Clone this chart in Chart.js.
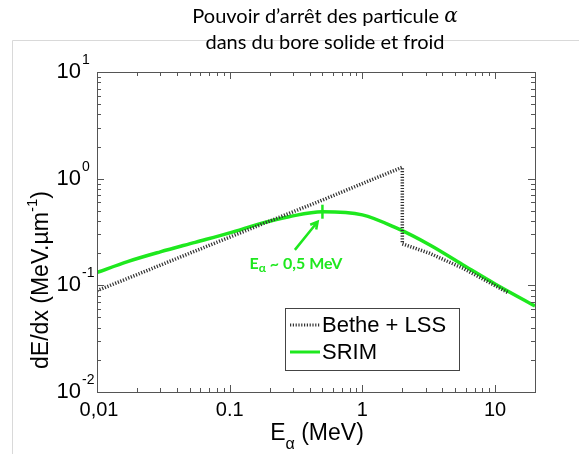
<!DOCTYPE html>
<html>
<head>
<meta charset="utf-8">
<script src="https://cdn.jsdelivr.net/npm/chart.js@4.4.0/dist/chart.umd.min.js"></script>
<style>
    html, body { margin: 0; padding: 0; background: #fff; }
    #wrap { position: relative; width: 579px; height: 454px; }
</style>
</head>
<body>
<div id="wrap"><canvas id="stopChart" width="579" height="454"></canvas></div>
<script>
// data
const titleLine1 = 'Pouvoir d\u2019arr\u00eat des particule ';
const titleAlpha = '\u03b1';
const titleLine2 = 'dans du bore solide et froid';

const betheE = [0.01, 0.02, 0.05, 0.1, 0.2, 0.5, 1, 2, 2, 3.2, 5.7, 12.6];
const betheS = [0.089, 0.126, 0.20, 0.283, 0.40, 0.63, 0.90, 1.28, 0.245, 0.20, 0.145, 0.085];

const srimE = [0.01, 0.017, 0.03, 0.055, 0.1, 0.175, 0.28, 0.5, 1, 1.8, 3.2, 5.7, 10, 20];
const srimS = [0.132, 0.167, 0.206, 0.253, 0.31, 0.383, 0.44, 0.49, 0.458, 0.345, 0.24, 0.156, 0.103, 0.064];

const peakMarker = [0.5, 0.49];

const xTickValues = [0.01, 0.1, 1, 10];
const xTickLabels = ['0,01', '0.1', '1', '10'];
const yTickValues = [0.01, 0.1, 1, 10];
const yTickExps = ['-2', '-1', '0', '1'];

const seriesLabels = ['Bethe + LSS', 'SRIM'];

const betheColor = '#333333';
const srimColor = '#1ee81e';

const toPoints = (xs, ys) => xs.map((x, i) => ({ x: x, y: ys[i] }));

// everything drawn around the axes: ticks, labels, legend, note
const decorPlugin = {
    id: 'decor',
    beforeDraw(chart) {
        const ctx = chart.ctx;
        ctx.save();
        ctx.fillStyle = '#fff';
        ctx.fillRect(0, 0, chart.width, chart.height);
        // slide frame lines
        ctx.strokeStyle = '#d9d9d9';
        ctx.lineWidth = 1;
        ctx.beginPath();
        ctx.moveTo(12.5, 454);
        ctx.lineTo(12.5, 40.5);
        ctx.lineTo(579, 40.5);
        ctx.stroke();
        // title, alpha in italics
        ctx.fillStyle = '#000';
        ctx.textBaseline = 'middle';
        ctx.textAlign = 'left';
        ctx.font = '20px Lato, "Open Sans", sans-serif';
        const w1 = ctx.measureText(titleLine1).width;
        ctx.font = 'italic 20px "DejaVu Serif", serif';
        const wa = ctx.measureText(titleAlpha).width;
        const t0 = 325 - (w1 + wa) / 2;
        ctx.font = '20px Lato, "Open Sans", sans-serif';
        ctx.fillText(titleLine1, t0, 17);
        ctx.font = 'italic 20px "DejaVu Serif", serif';
        ctx.fillText(titleAlpha, t0 + w1, 17);
        ctx.font = '20px Lato, "Open Sans", sans-serif';
        ctx.textAlign = 'center';
        ctx.fillText(titleLine2, 325, 43);
        ctx.restore();
    },
    afterDraw(chart) {
        const ctx = chart.ctx;
        const xs = chart.scales.x, ys = chart.scales.y;
        const a = chart.chartArea;
        ctx.save();

        // box
        ctx.strokeStyle = '#555';
        ctx.lineWidth = 1;
        ctx.strokeRect(Math.round(a.left) + 0.5, Math.round(a.top) + 0.5,
            Math.round(a.right - a.left), Math.round(a.bottom - a.top));

        // inward ticks on all four sides
        ctx.beginPath();
        [0.01, 0.1, 1, 10].forEach(d => {
            for (let m = 1; m <= 9; m++) {
                const v = d * m;
                if (v > xs.max * 1.0001) continue;
                const px = Math.round(xs.getPixelForValue(v)) + 0.5;
                const len = m === 1 ? 7 : 4;
                ctx.moveTo(px, a.bottom); ctx.lineTo(px, a.bottom - len);
                ctx.moveTo(px, a.top); ctx.lineTo(px, a.top + len);
            }
        });
        [0.01, 0.1, 1].forEach(d => {
            for (let m = 1; m <= 10; m++) {
                const py = Math.round(ys.getPixelForValue(d * m)) + 0.5;
                const len = (m === 1 || m === 10) ? 7 : 4;
                ctx.moveTo(a.left, py); ctx.lineTo(a.left + len, py);
                ctx.moveTo(a.right, py); ctx.lineTo(a.right - len, py);
            }
        });
        ctx.stroke();

        // x tick labels
        ctx.fillStyle = '#000';
        ctx.font = '20px "Liberation Sans", Arial, sans-serif';
        ctx.textAlign = 'center';
        ctx.textBaseline = 'middle';
        xTickValues.forEach((v, i) => {
            ctx.fillText(xTickLabels[i], xs.getPixelForValue(v) - (i === 0 ? -2 : 0), a.bottom + 18);
        });

        // y tick labels 10^n
        yTickValues.forEach((v, i) => {
            const py = ys.getPixelForValue(v);
            ctx.font = '22px "Liberation Sans", Arial, sans-serif';
            ctx.textAlign = 'right';
            ctx.textBaseline = 'middle';
            ctx.fillText('10', 81, py);
            ctx.font = '14px "Liberation Sans", Arial, sans-serif';
            ctx.textAlign = 'left';
            ctx.fillText(yTickExps[i], 82, py - 12);
        });

        // x axis title
        ctx.textBaseline = 'alphabetic';
        ctx.textAlign = 'left';
        const xt1 = 'E', xt2 = ' (MeV)';
        ctx.font = '16px "Liberation Sans", Arial, sans-serif';
        const wSub = ctx.measureText('\u03b1').width;
        ctx.font = '23px "Liberation Sans", Arial, sans-serif';
        const wE = ctx.measureText(xt1).width, wRest = ctx.measureText(xt2).width;
        const sx = 317 - (wE + wSub + wRest) / 2;
        ctx.fillText(xt1, sx, 440);
        ctx.font = '16px "Liberation Sans", Arial, sans-serif';
        ctx.fillText('\u03b1', sx + wE, 449);
        ctx.font = '23px "Liberation Sans", Arial, sans-serif';
        ctx.fillText(xt2, sx + wE + wSub, 440);

        // y axis title, rotated
        ctx.save();
        ctx.translate(48, 280);
        ctx.rotate(-Math.PI / 2);
        const yt1 = 'dE/dx (MeV.\u00b5m', yt2 = '-1', yt3 = ')';
        ctx.font = '23px "Liberation Sans", Arial, sans-serif';
        const w1 = ctx.measureText(yt1).width, w3 = ctx.measureText(yt3).width;
        ctx.font = '15px "Liberation Sans", Arial, sans-serif';
        const w2 = ctx.measureText(yt2).width;
        const ty = -(w1 + w2 + w3) / 2;
        ctx.font = '23px "Liberation Sans", Arial, sans-serif';
        ctx.fillText(yt1, ty, 0);
        ctx.font = '15px "Liberation Sans", Arial, sans-serif';
        ctx.fillText(yt2, ty + w1, -11);
        ctx.font = '23px "Liberation Sans", Arial, sans-serif';
        ctx.fillText(yt3, ty + w1 + w2, 0);
        ctx.restore();

        // annotation: arrow and note at the SRIM peak
        const tailX = xs.getPixelForValue(0.31), tailY = ys.getPixelForValue(0.215);
        const tipX = xs.getPixelForValue(0.46), tipY = ys.getPixelForValue(0.395);
        ctx.strokeStyle = srimColor;
        ctx.lineWidth = 2.5;
        ctx.beginPath();
        ctx.moveTo(tailX, tailY);
        ctx.lineTo(tipX, tipY);
        const ang = Math.atan2(tipY - tailY, tipX - tailX);
        ctx.moveTo(tipX - 8 * Math.cos(ang - 0.5), tipY - 8 * Math.sin(ang - 0.5));
        ctx.lineTo(tipX, tipY);
        ctx.lineTo(tipX - 8 * Math.cos(ang + 0.5), tipY - 8 * Math.sin(ang + 0.5));
        ctx.stroke();

        ctx.fillStyle = srimColor;
        const bigF = 'bold 16px Lato, "Open Sans", sans-serif';
        const subF = 'bold 12px Lato, "Open Sans", sans-serif';
        const n1 = 'E', n3 = ' ~ 0,5 MeV';
        ctx.font = bigF;
        const nw1 = ctx.measureText(n1).width, nw3 = ctx.measureText(n3).width;
        ctx.font = subF;
        const nw2 = ctx.measureText('\u03b1').width;
        const nx = 296 - (nw1 + nw2 + nw3) / 2;
        ctx.font = bigF;
        ctx.fillText(n1, nx, 269);
        ctx.font = subF;
        ctx.fillText('\u03b1', nx + nw1, 272);
        ctx.font = bigF;
        ctx.fillText(n3, nx + nw1 + nw2, 269);

        // legend box
        const lx = 285, ly = 308, lw = 174, lh = 62;
        ctx.fillStyle = '#fff';
        ctx.fillRect(lx, ly, lw, lh);
        ctx.strokeStyle = '#444';
        ctx.lineWidth = 1;
        ctx.strokeRect(lx + 0.5, ly + 0.5, lw, lh);
        const ds = chart.data.datasets;
        [0, 1].forEach(i => {
            const yy = ly + 17 + i * 27;
            ctx.strokeStyle = ds[i].borderColor;
            ctx.lineWidth = 3;
            ctx.setLineDash(ds[i].borderDash || []);
            ctx.beginPath();
            ctx.moveTo(lx + 5, yy);
            ctx.lineTo(lx + 35, yy);
            ctx.stroke();
            ctx.setLineDash([]);
            ctx.fillStyle = '#000';
            ctx.font = '22px "Liberation Sans", Arial, sans-serif';
            ctx.textAlign = 'left';
            ctx.textBaseline = 'middle';
            ctx.fillText(ds[i].label, lx + 37, yy + 1);
        });

        ctx.restore();
    }
};

document.addEventListener('DOMContentLoaded', function() {
    const canvas = document.getElementById('stopChart');
    const ctx = canvas.getContext('2d');

    canvas.chart = new Chart(ctx, {
        type: 'line',
        data: {
            datasets: [{
                label: seriesLabels[0],
                data: toPoints(betheE, betheS),
                borderColor: betheColor,
                borderWidth: 3.5,
                borderDash: [1.2, 1.6],
                pointRadius: 0,
                tension: 0,
                fill: false
            }, {
                label: seriesLabels[1],
                data: toPoints(srimE, srimS),
                borderColor: srimColor,
                borderWidth: 3.5,
                pointRadius: 0,
                cubicInterpolationMode: 'monotone',
                fill: false
            }, {
                label: 'peak',
                type: 'scatter',
                data: [{ x: peakMarker[0], y: peakMarker[1] }],
                pointStyle: 'line',
                rotation: 90,
                radius: 7,
                borderColor: srimColor,
                borderWidth: 2.5
            }]
        },
        options: {
            responsive: false,
            animation: false,
            layout: { padding: { left: 97, right: 44, top: 72, bottom: 62 } },
            scales: {
                x: {
                    type: 'logarithmic',
                    min: 0.01,
                    max: 20,
                    grid: { display: false, drawTicks: false },
                    border: { display: false },
                    ticks: { display: false }
                },
                y: {
                    type: 'logarithmic',
                    min: 0.01,
                    max: 10,
                    grid: { display: false, drawTicks: false },
                    border: { display: false },
                    ticks: { display: false }
                }
            },
            plugins: {
                legend: { display: false },
                tooltip: { enabled: false }
            }
        },
        plugins: [decorPlugin]
    });
});
</script>
</body>
</html>
